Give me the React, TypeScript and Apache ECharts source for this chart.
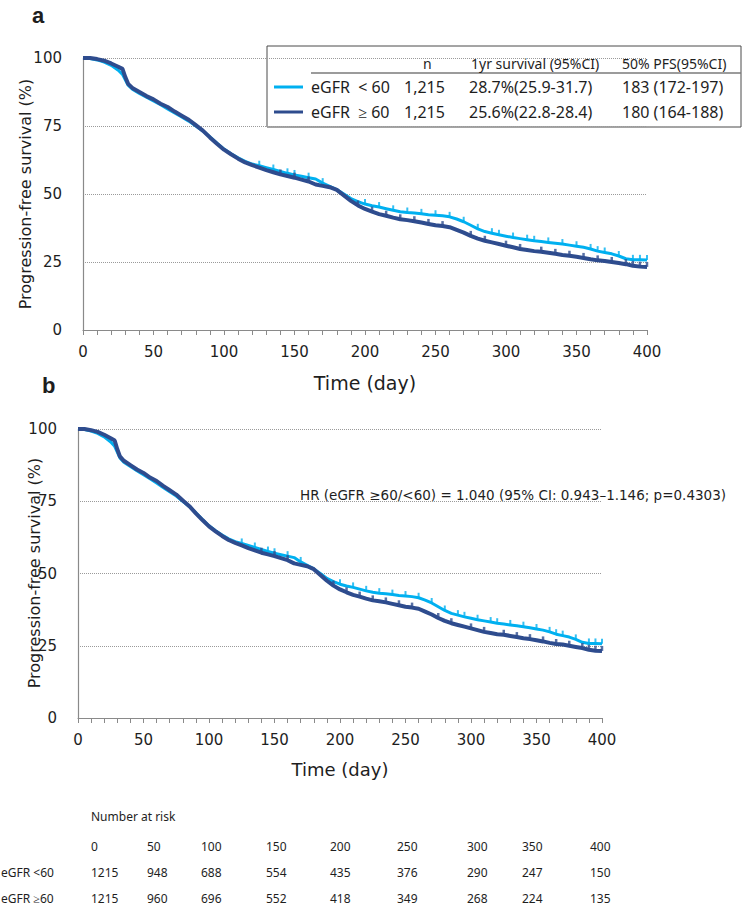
import React, { useEffect, useRef } from "react";
import * as echarts from "echarts";

// ---- data ----
const days = [0, 5, 10, 15, 20, 25, 28, 30, 32, 35, 40, 45, 50, 55, 60, 65, 70, 75, 80, 85, 90, 95, 100, 105, 110, 115, 120, 125, 130, 135, 140, 145, 150, 155, 160, 165, 170, 175, 180, 185, 190, 195, 200, 205, 210, 215, 220, 225, 230, 235, 240, 245, 250, 255, 260, 265, 270, 275, 280, 285, 290, 295, 300, 305, 310, 315, 320, 325, 330, 335, 340, 345, 350, 355, 360, 365, 370, 375, 380, 385, 390, 395, 400];

// eGFR < 60 (light blue)
const survLt60 = [100, 99.8, 99.3, 98.5, 97.3, 95.5, 94.0, 92.0, 90.0, 88.5, 87.0, 85.6, 84.2, 82.8, 81.3, 79.8, 78.3, 76.8, 75.0, 73.2, 71.0, 68.7, 66.5, 64.8, 63.3, 62.0, 61.0, 60.4, 59.7, 59.0, 58.3, 57.6, 57.0, 56.5, 56.0, 55.5, 54.0, 52.8, 51.6, 50.0, 48.3, 47.2, 46.3, 45.7, 45.2, 44.6, 44.0, 43.5, 43.2, 43.0, 42.7, 42.4, 42.2, 42.0, 41.6, 40.8, 39.8, 38.5, 37.2, 36.2, 35.6, 35.0, 34.5, 34.0, 33.6, 33.2, 32.8, 32.5, 32.2, 31.9, 31.6, 31.2, 30.8, 30.4, 29.8, 29.0, 28.5, 28.0, 27.2, 26.2, 25.8, 25.8, 25.7];

// eGFR >= 60 (dark blue)
const survGe60 = [100, 100, 99.6, 99.0, 98.0, 96.8, 96.0, 93.0, 90.5, 89.0, 87.5, 86.0, 84.8, 83.2, 82.0, 80.3, 78.8, 77.3, 75.3, 73.3, 70.8, 68.5, 66.3, 64.6, 63.0, 61.6, 60.6, 59.7, 58.8, 58.0, 57.2, 56.6, 56.0, 55.3, 54.6, 53.5, 53.0, 52.5, 51.5, 49.5, 47.5, 45.8, 44.5, 43.5, 42.6, 42.0, 41.3, 40.7, 40.4, 40.0, 39.5, 39.0, 38.5, 38.2, 37.8, 36.8, 35.8, 34.6, 33.6, 32.8, 32.2, 31.6, 31.0, 30.4, 29.8, 29.4, 29.0, 28.8, 28.4, 28.0, 27.6, 27.3, 26.9, 26.5, 26.0, 25.6, 25.4, 25.0, 24.6, 24.2, 23.6, 23.3, 23.2];

// censoring marks [day, survival]
const censorLt60 = [[125, 60.4], [135, 59.0], [145, 57.6], [150, 57.0], [160, 56.0], [170, 54.0], [200, 46.3], [210, 45.2], [220, 44.0], [230, 43.2], [240, 42.7], [250, 42.2], [260, 41.6], [270, 39.8], [280, 37.2], [290, 35.6], [295, 35.0], [305, 34.0], [315, 33.2], [320, 32.8], [330, 32.2], [340, 31.6], [350, 30.8], [360, 29.8], [365, 29.0], [370, 28.5], [380, 27.2], [390, 25.8], [395, 25.8], [400, 25.7]];
const censorGe60 = [[140, 57.2], [150, 56.0], [160, 54.6], [195, 45.8], [205, 43.5], [215, 42.0], [225, 40.7], [235, 40.0], [245, 39.0], [255, 38.2], [275, 34.6], [285, 32.8], [300, 31.0], [310, 29.8], [325, 28.8], [335, 28.0], [345, 27.3], [355, 26.5], [365, 25.6], [375, 25.0], [385, 24.2], [390, 23.6], [395, 23.3], [400, 23.2]];

// legend table
const groupLabels = ["eGFR  < 60", "eGFR  ≥ 60"];
const groupN = ["1,215", "1,215"];
const oneYearSurvival = ["28.7%(25.9-31.7)", "25.6%(22.8-28.4)"];
const medianPFS = ["183 (172-197)", "180 (164-188)"];
const legendHeaders = ["n", "1yr survival (95%CI)", "50% PFS(95%CI)"];

const hrText = "HR (eGFR ≥60/<60) = 1.040 (95% CI: 0.943–1.146; p=0.4303)";

// number at risk
const riskTimes = ["0", "50", "100", "150", "200", "250", "300", "350", "400"];
const riskRowLabels = ["eGFR <60", "eGFR ≥60"];
const riskLt60 = ["1215", "948", "688", "554", "435", "376", "290", "247", "150"];
const riskGe60 = ["1215", "960", "696", "552", "418", "349", "268", "224", "135"];

// ---- styling / layout ----
const LIGHT = "#00B0F0";
const DARK = "#2E4C8E";
const AXIS_GRAY = "#8a8a8a";
const TXT = "#1e1e1e";
const TICK_FONT = "DejaVu Sans";
const riskColX = [91, 147, 201, 266, 330, 397, 467, 522, 590];

const pairs = (vals: number[]) => days.map((d, i) => [d, vals[i]]);

function mkX(gridIndex: number) {
  return {
    type: "value",
    gridIndex,
    min: 0,
    max: 400,
    interval: 50,
    axisLine: { show: true, lineStyle: { color: AXIS_GRAY, width: 1.2 } },
    axisTick: { show: true, length: 5, lineStyle: { color: AXIS_GRAY } },
    minorTick: { show: true, splitNumber: 5, length: 5, lineStyle: { color: AXIS_GRAY } },
    splitLine: { show: false },
    axisLabel: { fontSize: 15, color: TXT, fontFamily: TICK_FONT, margin: 14 },
  };
}
function mkY(gridIndex: number) {
  return {
    type: "value",
    gridIndex,
    min: 0,
    max: 100,
    interval: 25,
    axisLine: { show: true, lineStyle: { color: AXIS_GRAY, width: 1.2 } },
    axisTick: { show: false },
    splitLine: { show: true, lineStyle: { type: "dotted", color: "#9a9a9a", width: 1 } },
    axisLabel: { fontSize: 15, color: TXT, fontFamily: TICK_FONT, margin: 21 },
  };
}

function panelSeries(idx: number) {
  return [
    {
      type: "line",
      xAxisIndex: idx,
      yAxisIndex: idx,
      data: pairs(survLt60),
      showSymbol: false,
      lineStyle: { color: LIGHT, width: 3 },
      z: 2,
    },
    {
      type: "line",
      xAxisIndex: idx,
      yAxisIndex: idx,
      data: pairs(survGe60),
      showSymbol: false,
      lineStyle: { color: DARK, width: 4 },
      z: 3,
    },
    {
      type: "scatter",
      xAxisIndex: idx,
      yAxisIndex: idx,
      data: censorLt60,
      symbol: "rect",
      symbolSize: [2, 5],
      symbolOffset: [0, -2.5],
      itemStyle: { color: LIGHT },
      z: 2,
    },
    {
      type: "scatter",
      xAxisIndex: idx,
      yAxisIndex: idx,
      data: censorGe60,
      symbol: "rect",
      symbolSize: [2.5, 5],
      symbolOffset: [0, -2.5],
      itemStyle: { color: DARK },
      z: 4,
    },
  ];
}

function txt(text: string, x: number, y: number, font: string, align = "left", extra: any = {}) {
  return {
    type: "text",
    x,
    y,
    ...extra,
    style: { text, font, fill: TXT, textAlign: align, textVerticalAlign: "middle" },
  };
}

export default function App() {
  const ref = useRef<HTMLDivElement>(null);
  useEffect(() => {
    if (!ref.current) return;
    const chart = echarts.init(ref.current, undefined, { renderer: "svg" });

    const legendFont = "16px 'Noto Sans'";
    const headerFont = "14px 'Noto Sans'";
    const rowY = [87, 112];
    const legendEls: any[] = [
      {
        type: "rect",
        shape: { x: 267, y: 46, width: 474, height: 81 },
        style: { fill: "#ffffff", stroke: "#4a4a4a", lineWidth: 1 },
      },
      {
        type: "line",
        shape: { x1: 311, y1: 73, x2: 741, y2: 73 },
        style: { stroke: "#7a7a7a", lineWidth: 1.5 },
      },
      txt(legendHeaders[0], 423, 63, headerFont),
      txt(legendHeaders[1], 471, 63, headerFont),
      txt(legendHeaders[2], 622, 63, headerFont),
    ];
    [LIGHT, DARK].forEach((c, i) => {
      legendEls.push({
        type: "line",
        shape: { x1: 274, y1: rowY[i], x2: 303, y2: rowY[i] },
        style: { stroke: c, lineWidth: 3 },
      });
      legendEls.push(txt(groupLabels[i], 311, rowY[i], legendFont));
      legendEls.push(txt(groupN[i], 404, rowY[i], legendFont));
      legendEls.push(txt(oneYearSurvival[i], 469, rowY[i], legendFont));
      legendEls.push(txt(medianPFS[i], 622, rowY[i], legendFont));
    });

    const riskFont = "12px 'Noto Sans'";
    const riskEls: any[] = [txt("Number at risk", 91, 816, riskFont)];
    riskTimes.forEach((t, i) => riskEls.push(txt(t, riskColX[i], 846, riskFont)));
    riskEls.push(txt(riskRowLabels[0], 1, 872, riskFont));
    riskEls.push(txt(riskRowLabels[1], 1, 898, riskFont));
    riskLt60.forEach((t, i) => riskEls.push(txt(t, riskColX[i], 872, riskFont)));
    riskGe60.forEach((t, i) => riskEls.push(txt(t, riskColX[i], 898, riskFont)));

    const option: any = {
      animation: false,
      grid: [
        { left: 83, top: 58, width: 564, height: 272 },
        { left: 78, top: 429, width: 524, height: 289 },
      ],
      xAxis: [mkX(0), mkX(1)],
      yAxis: [mkY(0), mkY(1)],
      series: [...panelSeries(0), ...panelSeries(1)],
      graphic: [
        {
          type: "group",
          z: 100,
          children: [
            txt("a", 32, 15, "bold 22px 'Liberation Sans'"),
            txt("b", 42, 385, "bold 22px 'Liberation Sans'"),
            txt("Progression-free survival (%)", 25, 194, "16px 'DejaVu Sans'", "center", { rotation: Math.PI / 2 }),
            txt("Time (day)", 365, 383, "19px 'DejaVu Sans'", "center"),
            txt("Progression-free survival (%)", 34, 573, "16px 'DejaVu Sans'", "center", { rotation: Math.PI / 2 }),
            txt("Time (day)", 340, 769, "18px 'DejaVu Sans'", "center"),
            txt(hrText, 300, 495, "13.5px 'DejaVu Sans'"),
            ...legendEls,
            ...riskEls,
          ],
        },
      ],
    };
    chart.setOption(option);
    return () => chart.dispose();
  }, []);
  return (
    <div
      ref={ref}
      style={{ position: "absolute", left: 0, top: 0, width: 749, height: 912, background: "#fff" }}
    />
  );
}
